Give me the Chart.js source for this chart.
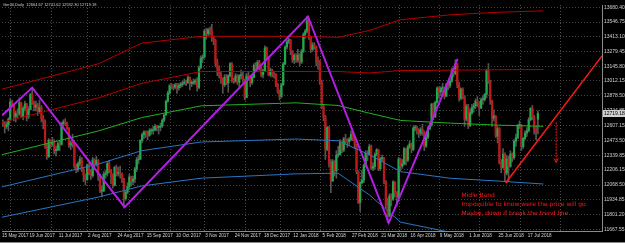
<!DOCTYPE html>
<html><head><meta charset="utf-8">
<script src="https://cdn.jsdelivr.net/npm/chart.js@4/dist/chart.umd.min.js"></script>
<style>html,body{margin:0;padding:0;background:#000;overflow:hidden}canvas{display:block}</style>
</head><body>
<canvas id="c" width="625" height="243"></canvas>
<script>
// ---- DATA ----
const opens=[12640,12629,12599,12615,12664,12822,12790,12690,12720,12714,12815,12690,12765,12805,12691,12752,12889,12814,12774,12794,12733,12770,12671,12647,12416,12325,12475,12437,12453,12381,12388,12445,12437,12627,12641,12631,12587,12430,12452,12448,12240,12208,12263,12305,12212,12162,12118,12251,12181,12154,12297,12257,12292,12154,12014,12014,12165,12177,12263,12203,12165,12065,12229,12174,12180,12167,12124,11946,12002,12055,12142,12102,12123,12214,12296,12303,12475,12524,12553,12540,12519,12560,12561,12569,12600,12592,12594,12605,12657,12704,12828,12902,12970,12968,12955,12976,12949,12970,12982,12991,13003,12995,13043,12990,12991,13003,13013,12953,13133,13217,13229,13465,13440,13478,13468,13406,13382,13182,13127,13074,13034,12977,13047,12994,13059,13168,13015,13009,13060,13000,13059,13061,13024,12861,13058,13048,12998,13045,13154,13123,13183,13126,13068,13104,13312,13215,13069,13110,13073,13070,12979,12918,12871,12978,13167,13320,13367,13386,13282,13202,13245,13201,13247,13184,13282,13434,13463,13559,13414,13298,13340,13324,13197,13189,13004,12785,12687,12392,12590,12260,12107,12282,12197,12339,12346,12451,12385,12488,12470,12461,12483,12527,12490,12435,12190,11913,12090,12113,12245,12355,12346,12418,12221,12237,12345,12389,12217,12307,12309,12100,11886,11787,11970,11940,12096,12002,11957,12305,12241,12261,12397,12293,12415,12442,12391,12585,12590,12567,12540,12572,12550,12422,12501,12580,12612,12802,12690,12819,12948,12912,12943,12945,12874,12977,12970,13010,13114,13077,13169,12977,12855,12938,12863,12666,12783,12605,12724,12770,12787,12830,12811,12767,12842,12843,12890,13107,13010,12834,12677,12695,12512,12580,12270,12228,12348,12177,12306,12238,12349,12317,12465,12496,12609,12609,12417,12492,12540,12561,12661,12765,12686,12561,12664.67];
const highs=[12660,12640,12640,12680,12850,12840,12800,12740,12760,12860,12820,12780,12830,12810,12780,12900,12952,12830,12830,12810,12840,12790,12700,12660,12440,12490,12480,12500,12480,12420,12460,12470,12640,12660,12670,12640,12590,12470,12530,12450,12260,12280,12330,12320,12230,12170,12260,12270,12210,12320,12310,12330,12300,12170,12060,12190,12200,12280,12290,12210,12170,12240,12250,12230,12240,12180,12130,12020,12090,12170,12150,12150,12230,12320,12340,12480,12540,12560,12560,12560,12580,12580,12600,12620,12610,12600,12630,12670,12710,12840,12920,12980,12990,12980,12990,12990,12990,13000,13010,13030,13020,13060,13050,13010,13030,13030,13040,13150,13240,13250,13480,13490,13490,13500,13526,13420,13390,13210,13150,13090,13040,13070,13070,13070,13180,13180,13040,13080,13070,13070,13110,13090,13030,13080,13090,13060,13060,13170,13180,13200,13200,13140,13120,13330,13320,13230,13130,13120,13100,13080,12990,12930,12990,13180,13330,13380,13400,13390,13290,13260,13260,13300,13260,13300,13450,13480,13597,13580,13420,13360,13360,13330,13230,13200,13020,12800,12700,12600,12600,12300,12300,12290,12380,12420,12480,12460,12500,12530,12490,12500,12560,12550,12500,12440,12200,12100,12200,12260,12380,12380,12440,12430,12270,12360,12400,12390,12320,12340,12320,12110,11950,11990,11990,12110,12100,12010,12320,12310,12300,12410,12400,12430,12470,12450,12600,12610,12600,12580,12590,12620,12560,12520,12600,12630,12810,12810,12830,12960,12960,12960,12990,12960,12990,13000,13030,13130,13130,13205,13170,13000,12950,12950,12880,12800,12800,12760,12800,12810,12850,12870,12820,12860,12880,12900,13120,13170,13020,12840,12750,12700,12600,12590,12300,12400,12360,12340,12330,12380,12360,12480,12530,12620,12650,12620,12500,12560,12590,12680,12770,12790,12700,12600,12741.62];
const lows=[12600,12540,12580,12560,12650,12780,12650,12640,12680,12700,12680,12660,12740,12650,12670,12750,12800,12740,12740,12700,12720,12640,12580,12400,12300,12320,12400,12420,12350,12330,12380,12380,12430,12590,12610,12570,12410,12390,12410,12220,12180,12190,12240,12190,12100,12070,12110,12160,12120,12140,12230,12240,12110,12000,11960,12010,12130,12150,12180,12080,12040,12060,12150,12150,12130,12090,11868,11930,11990,12040,12060,12070,12090,12190,12260,12300,12450,12490,12500,12480,12510,12530,12530,12560,12560,12530,12560,12590,12640,12700,12820,12890,12940,12930,12940,12900,12930,12950,12960,12980,12970,12990,12930,12960,12980,12980,12920,12940,13120,13180,13220,13390,13420,13430,13370,13340,13140,13060,13040,12990,12900,12960,12980,12910,13050,13000,12990,13000,12980,12960,13030,13000,12840,12860,13020,12960,12980,13040,13100,13110,13110,13050,13040,13100,13200,13060,13050,13050,13040,12960,12900,12840,12860,12970,13160,13300,13350,13250,13180,13170,13180,13180,13150,13170,13270,13400,13450,13390,13270,13280,13300,13150,13120,12980,12760,12650,12300,12380,12230,12000,12100,12150,12130,12320,12340,12360,12370,12440,12410,12430,12470,12470,12400,12170,11900,11830,12080,12090,12230,12290,12340,12210,12200,12210,12330,12200,12200,12280,12080,11860,11726,11780,11880,11930,11960,11880,11950,12200,12220,12250,12250,12280,12400,12360,12380,12560,12530,12500,12520,12520,12380,12410,12490,12570,12600,12660,12680,12810,12860,12880,12910,12850,12870,12930,12950,13000,13050,13070,12950,12830,12840,12850,12600,12650,12580,12600,12710,12730,12760,12780,12700,12760,12800,12830,12860,12990,12800,12600,12650,12500,12450,12260,12180,12220,12100,12160,12100,12230,12280,12300,12420,12490,12580,12380,12400,12480,12510,12550,12650,12660,12530,12480,12532.30];
const closes=[12629,12599,12615,12664,12822,12790,12690,12720,12714,12815,12690,12765,12805,12691,12752,12889,12814,12774,12794,12733,12770,12671,12647,12416,12325,12475,12437,12453,12381,12388,12445,12437,12627,12641,12631,12587,12430,12452,12448,12240,12208,12263,12305,12212,12162,12118,12251,12181,12154,12297,12257,12292,12154,12014,12014,12165,12177,12263,12203,12165,12065,12229,12174,12180,12167,12124,11946,12002,12055,12142,12102,12123,12214,12296,12303,12475,12524,12553,12540,12519,12560,12561,12569,12600,12592,12594,12605,12657,12704,12828,12902,12970,12968,12955,12976,12949,12970,12982,12991,13003,12995,13043,12990,12991,13003,13013,12953,13133,13217,13229,13465,13440,13478,13468,13406,13382,13182,13127,13074,13034,12977,13047,12994,13059,13168,13015,13009,13060,13000,13059,13061,13024,12861,13058,13048,12998,13045,13154,13123,13183,13126,13068,13104,13312,13215,13069,13110,13073,13070,12979,12918,12871,12978,13167,13320,13367,13386,13282,13202,13245,13201,13247,13184,13282,13434,13463,13559,13414,13298,13340,13324,13197,13189,13004,12785,12687,12392,12590,12260,12107,12282,12197,12339,12346,12451,12385,12488,12470,12461,12483,12527,12490,12435,12190,11913,12090,12113,12245,12355,12346,12418,12221,12237,12345,12389,12217,12307,12309,12100,11886,11787,11970,11940,12096,12002,11957,12305,12241,12261,12397,12293,12415,12442,12391,12585,12590,12567,12540,12572,12550,12422,12501,12580,12612,12802,12690,12819,12948,12912,12943,12945,12874,12977,12970,13010,13114,13077,13169,12977,12855,12938,12863,12666,12783,12605,12724,12770,12787,12830,12811,12767,12842,12843,12890,13107,13010,12834,12677,12695,12512,12580,12270,12228,12348,12177,12306,12238,12349,12317,12465,12496,12609,12609,12417,12492,12540,12561,12661,12765,12686,12561,12549,12719.18];

const dateLabels=["15 May 2017","19 Jun 2017","11 Jul 2017","2 Aug 2017","24 Aug 2017","15 Sep 2017","10 Oct 2017","3 Nov 2017","24 Nov 2017","18 Dec 2017","12 Jan 2018","5 Feb 2018","27 Feb 2018","21 Mar 2018","16 Apr 2018","9 May 2018","1 Jun 2018","25 Jun 2018","17 Jul 2018"];
const dateTickBars=[-0.5,14.5,30.5,46.5,62.5,78.5,94.5,110.5,126.5,142.5,158.5,174.5,190.5,206.5,222.5,238.5,254.5,270.5,286.5];
const gridBars=[4,26,46,69,91,110,132,151,173,195,216,238,260,282,304];
const priceTicks=[13680.40,13546.75,13413.10,13279.45,13145.80,13012.15,12878.50,12744.85,12607.15,12473.50,12339.85,12206.15,12068.50,11934.85,11801.20,11667.55];

// envelope bands (sampled at bar positions)
const bandBars=[-0.5,52.3,75.7,108.3,160,182.9,200,217.1,244.3,270,295];
const upperOuter=[12938,13169,13355,13417,13417,13408,13470,13568,13612,13635,13648];
const upperInner=[12637,12860,12990,13098,13098,13098,13085,13107,13110,13114,13116];
const middleBand=[12344,12560,12680,12787,12814,12790,12720,12654,12630,12612,12601];
const lowerInner=[12052,12260,12380,12459,12486,12470,12344,12190,12130,12105,12078];
const lowerOuter=[11777,11960,12060,12131,12170,12176,11980,11732,11640,11620,11555];

// purple zig-zag trend lines
const zigBars=[-0.5,16,66.4,166.5,210.6,248.2];
const zigPrices=[12700,12952,11868,13597,11726,13213];
// red forecast line
const arrowBars=[274.8,327];
const arrowPrices=[12096,13240];
const downArrowBar=302;
const downArrowPrices=[12637,12282];

const headerText="Ger30,Daily  12664.67 12741.62 12532.30 12719.18";
const noteLines=["Midle Band","Impossible to know were the price will go.","Maybe, down if break the trend line"];
const noteBar=250.3, notePrices=[11970,11890,11810];

// ---- CHART ----
const N=closes.length;
const wick=[],body=[],bodyCol=[];
for(let i=0;i<N;i++){
  wick.push({x:i,y:[lows[i],highs[i]]});
  body.push({x:i,y:[opens[i],closes[i]]});
  bodyCol.push(closes[i]>=opens[i]?'#1fa84e':'#c01818');
}
const pts=(xs,ys)=>xs.map((x,i)=>({x:x,y:ys[i]}));
const band=(ys,c)=>({type:'line',data:pts(bandBars,ys),borderColor:c,borderWidth:1,pointRadius:0,tension:0,order:2});

const overlay={
  id:'overlay',
  beforeDatasetsDraw(ch){
    const {ctx,chartArea:a,scales:{x}}=ch;
    ctx.save();
    ctx.strokeStyle='#4c4c4c';ctx.lineWidth=1;ctx.setLineDash([1,2]);
    gridBars.forEach(b=>{const px=Math.round(x.getPixelForValue(b))+0.5;ctx.beginPath();ctx.moveTo(px,a.top);ctx.lineTo(px,a.bottom);ctx.stroke();});
    ctx.restore();
  },
  afterDraw(ch){
    const {ctx,chartArea:a,scales:{x,y}}=ch;
    ctx.save();
    ctx.font='4px "Liberation Sans"';ctx.fillStyle='#d0d0d0';ctx.textBaseline='middle';
    ctx.fillText(headerText,3,4.5);
    // red down arrow
    const ax=x.getPixelForValue(downArrowBar),ay1=y.getPixelForValue(downArrowPrices[0]),ay2=y.getPixelForValue(downArrowPrices[1]);
    ctx.strokeStyle='#ff1a1a';ctx.lineWidth=1;ctx.setLineDash([2,1]);
    ctx.beginPath();ctx.moveTo(ax,ay1);ctx.lineTo(ax,ay2);ctx.stroke();ctx.setLineDash([]);
    ctx.beginPath();ctx.moveTo(ax-2,ay2-3);ctx.lineTo(ax,ay2+1);ctx.lineTo(ax+2,ay2-3);ctx.stroke();
    // start point of forecast line
    ctx.fillStyle='#ff1a1a';
    ctx.beginPath();ctx.arc(x.getPixelForValue(arrowBars[0]),y.getPixelForValue(arrowPrices[0]),1.3,0,7);ctx.fill();
    // notes
    ctx.font='6px "DejaVu Sans"';ctx.textBaseline='middle';
    noteLines.forEach((t,i)=>ctx.fillText(t,x.getPixelForValue(noteBar),y.getPixelForValue(notePrices[i])));
    // current price box
    const cy=Math.round(y.getPixelForValue(closes[N-1]));
    ctx.fillStyle='#d0d0d0';ctx.fillRect(a.right+1,cy-3,22,7);
    ctx.fillStyle='#000';ctx.font='5px "Liberation Sans"';ctx.fillText(closes[N-1].toFixed(2),a.right+2,cy+0.5);
    // bottom frame
    ctx.fillStyle='#8a8a8a';ctx.fillRect(0,242,625,1);
    ctx.restore();
  }
};

new Chart(document.getElementById('c'),{
  type:'bar',
  data:{datasets:[
    {type:'bar',data:wick,backgroundColor:'#555',barThickness:1,grouped:false,order:5},
    {type:'bar',data:body,backgroundColor:bodyCol,barThickness:1.6,grouped:false,order:4,minBarLength:1},
    band(upperOuter,'#b50000'),band(upperInner,'#b50000'),band(middleBand,'#1fb31f'),
    band(lowerInner,'#2a76c6'),band(lowerOuter,'#2a76c6'),
    {type:'line',data:pts(zigBars,zigPrices),borderColor:'#b41ee6',borderWidth:2,pointRadius:0,tension:0,order:1},
    {type:'line',data:pts(arrowBars,arrowPrices),borderColor:'#ff1a1a',borderWidth:1.5,pointRadius:0,tension:0,order:1}
  ]},
  options:{
    responsive:false,animation:false,devicePixelRatio:1,
    layout:{padding:0},
    plugins:{legend:{display:false},tooltip:{enabled:false}},
    scales:{
      x:{type:'linear',min:-0.5,max:327,offset:false,
        grid:{display:false,offset:false,drawTicks:false},
        border:{display:true,color:'#8a8a8a'},
        afterBuildTicks(s){s.ticks=dateTickBars.map(v=>({value:v}));},
        afterFit(s){s.height=12;},
        ticks:{autoSkip:false,maxRotation:0,minRotation:0,align:'start',padding:2,color:'#d8d8d8',font:{size:4.6,family:'Liberation Sans'},
          callback(v,i){return dateLabels[i];}}
      },
      y:{type:'linear',position:'right',min:11652,max:13701,beginAtZero:false,
        grid:{color:'#444',drawTicks:false},
        border:{display:true,color:'#8a8a8a',dash:[1,2]},
        afterBuildTicks(s){s.ticks=priceTicks.map(v=>({value:v}));},
        afterFit(s){s.width=23;},
        ticks:{padding:2,color:'#d0d0d0',font:{size:5,family:'Liberation Sans'},callback(v){return v.toFixed(2);}}
      }
    }
  },
  plugins:[overlay]
});
</script>
</body></html>
